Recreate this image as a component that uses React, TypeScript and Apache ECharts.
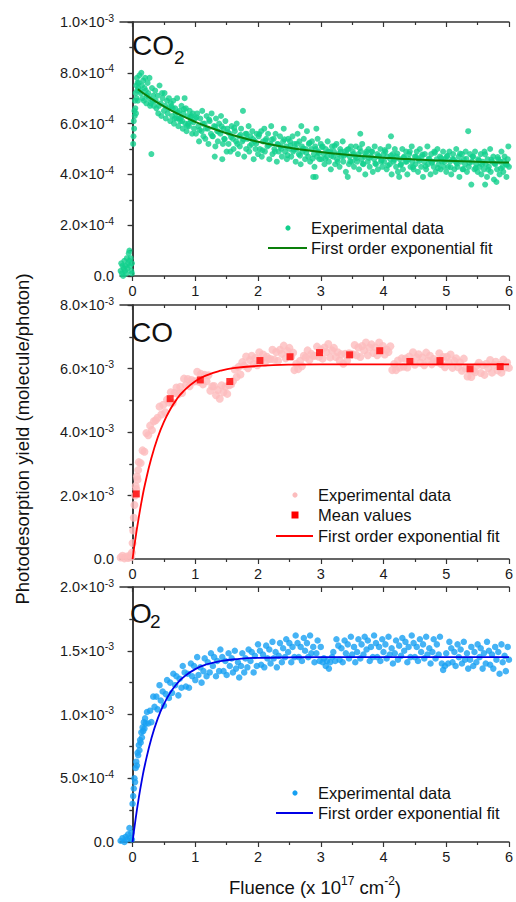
import { useEffect, useRef } from "react";
import * as echarts from "echarts";

const FONT = "'Liberation Sans', Arial, sans-serif";

// Fluence axis (x 10^17 cm^-2)
const FLUENCE_MAJOR = [0, 1, 2, 3, 4, 5, 6];
const FLUENCE_MINOR = [0.5, 1.5, 2.5, 3.5, 4.5, 5.5];

// Y-axis ranges: [max, interval]
const CO2_AXIS = [1e-3, 2e-4];
const CO_AXIS = [8e-3, 2e-3];
const O2_AXIS = [2e-3, 5e-4];

// ---------- CO2 : [fluence, yield x 1e-4] ----------
const co2Data: number[][] = [
  [-0.19,0.2],[-0.18,0.5],[-0.17,0.1],[-0.16,0.4],[-0.15,0.0],[-0.14,0.3],[-0.13,0.6],[-0.12,0.2],[-0.11,0.4],[-0.10,0.1],
  [-0.09,0.7],[-0.08,0.3],[-0.07,0.5],[-0.06,0.9],[-0.05,1.0],[-0.05,0.6],[-0.04,0.4],[-0.03,0.7],[-0.02,0.2],[-0.01,0.5],[-0.01,0.1],
  [0.01,5.2],[0.015,5.5],[0.02,6.1],[0.025,5.8],[0.03,6.5],[0.035,6.3],[0.04,6.9],[0.045,6.6],[0.05,7.2],[0.055,6.4],[0.06,7.5],
  [0.065,7.0],[0.07,7.8],[0.075,7.3],[0.08,7.6],[0.085,6.9],[0.09,7.4],
  [0.10,7.6],[0.11,7.9],[0.12,7.3],[0.13,7.2],[0.14,8.0],[0.15,7.5],[0.16,7.0],[0.17,7.7],[0.18,6.9],[0.19,7.4],[0.20,7.8],
  [0.21,7.3],[0.22,6.8],[0.23,7.1],[0.24,7.6],[0.25,7.2],[0.26,7.0],[0.27,7.8],[0.28,6.7],[0.29,6.8],[0.30,4.8],[0.31,7.4],
  [0.32,6.9],[0.33,7.1],[0.34,6.7],
  [0.36,7.3],[0.38,6.6],[0.40,7.1],[0.41,6.4],[0.43,7.5],[0.45,6.8],[0.46,6.3],[0.48,7.0],[0.50,6.5],[0.51,7.2],[0.53,6.2],
  [0.55,6.9],[0.56,6.4],[0.58,7.0],[0.60,6.1],[0.37,6.9],[0.42,6.7],[0.47,7.2],[0.52,6.7],[0.57,6.6],
  [0.61,6.8],[0.63,6.3],[0.65,6.9],[0.66,6.0],[0.68,6.6],[0.70,6.2],[0.71,7.0],[0.73,5.9],[0.75,6.5],[0.76,6.1],[0.78,6.7],
  [0.80,5.8],[0.81,6.4],[0.83,7.0],[0.84,6.0],[0.85,6.6],[0.86,5.7],[0.88,6.3],[0.90,5.9],[0.91,6.5],[0.93,6.1],[0.95,5.6],
  [0.96,6.4],[0.98,5.8],[1.00,6.2],[0.64,6.6],[0.69,6.4],[0.74,6.2],[0.79,6.1],[0.89,6.0],[0.94,6.3],
  [1.01,5.6],[1.03,6.4],[1.05,5.9],[1.06,5.3],[1.08,6.2],[1.10,5.7],[1.11,6.5],[1.13,5.5],[1.15,6.0],[1.16,5.4],[1.18,6.3],
  [1.20,5.8],[1.21,5.2],[1.23,6.1],[1.25,5.6],[1.26,6.4],[1.28,5.5],[1.30,5.9],[1.31,4.7],[1.33,6.2],[1.35,5.7],[1.36,5.3],
  [1.38,6.0],[1.40,5.6],[1.41,6.3],[1.43,4.6],[1.45,5.8],[1.46,5.4],[1.48,6.1],[1.50,4.9],[1.32,5.1],[1.44,5.2],
  [1.51,5.8],[1.53,5.2],[1.55,5.6],[1.56,4.9],[1.58,5.9],[1.60,5.4],[1.61,5.0],[1.63,5.7],[1.65,5.3],[1.66,6.0],[1.68,4.8],
  [1.70,5.5],[1.71,5.1],[1.73,5.8],[1.75,5.3],[1.76,6.5],[1.78,4.7],[1.80,5.6],[1.81,5.0],[1.83,5.4],[1.85,5.9],[1.86,4.9],
  [1.88,5.5],[1.90,5.2],[1.91,5.7],[1.93,4.6],[1.95,5.3],[1.96,5.0],[1.98,5.6],[2.00,4.8],
  [2.01,5.5],[2.03,5.0],[2.05,5.7],[2.06,4.7],[2.08,5.3],[2.10,5.8],[2.11,4.9],[2.13,5.4],[2.15,5.1],[2.16,5.6],[2.18,4.6],
  [2.20,5.2],[2.21,5.9],[2.23,4.8],[2.25,5.4],[2.26,5.0],[2.28,5.6],[2.30,4.5],[2.31,5.2],[2.33,4.9],[2.35,5.5],[2.36,5.1],
  [2.38,4.7],[2.40,5.3],[2.41,5.8],[2.43,4.9],[2.45,5.1],[2.46,4.6],[2.48,5.4],[2.50,5.0],
  [2.51,5.3],[2.53,4.7],[2.55,5.5],[2.56,4.9],[2.58,5.2],[2.60,4.5],[2.61,5.0],[2.63,5.6],[2.65,4.8],[2.66,5.3],[2.68,4.4],
  [2.69,5.9],[2.70,5.1],[2.71,4.9],[2.73,5.4],[2.75,4.6],[2.76,5.0],[2.78,5.7],[2.80,4.7],[2.81,5.2],[2.83,4.5],[2.85,5.0],
  [2.86,5.3],[2.88,3.9],[2.89,4.8],[2.90,4.3],[2.91,5.1],[2.92,3.9],[2.93,5.8],[2.94,4.7],[2.95,5.4],[2.96,4.9],[2.98,4.6],[3.00,5.2],
  [3.01,4.6],[3.03,5.1],[3.05,4.8],[3.06,4.4],[3.08,5.0],[3.10,4.7],[3.11,5.3],[3.13,4.5],[3.15,4.9],[3.16,4.2],[3.18,5.1],
  [3.20,4.7],[3.21,4.9],[3.23,4.4],[3.25,5.2],[3.26,4.6],[3.28,4.8],[3.30,4.3],[3.31,5.0],[3.33,4.7],[3.35,5.3],[3.36,4.5],
  [3.38,4.9],[3.40,4.1],[3.41,4.8],[3.43,3.9],[3.44,5.0],[3.45,4.4],[3.46,4.7],[3.48,5.1],[3.50,4.5],
  [3.51,4.9],[3.53,4.3],[3.55,4.7],[3.56,5.1],[3.58,4.5],[3.60,4.8],[3.61,4.2],[3.63,5.6],[3.64,4.9],[3.65,4.6],[3.66,5.2],
  [3.68,4.4],[3.70,4.7],[3.71,4.0],[3.73,4.9],[3.75,4.5],[3.76,5.0],[3.78,4.3],[3.80,4.7],[3.81,4.9],[3.83,4.1],[3.85,4.6],
  [3.86,5.1],[3.88,4.4],[3.90,4.8],[3.91,4.2],[3.93,4.7],[3.95,5.0],[3.96,4.5],[3.98,4.3],[4.00,4.8],
  [4.01,4.5],[4.03,4.9],[4.05,4.2],[4.06,4.7],[4.08,5.1],[4.10,4.4],[4.11,4.6],[4.12,5.5],[4.13,4.0],[4.15,4.8],[4.16,4.5],
  [4.18,5.0],[4.20,4.3],[4.21,4.7],[4.23,4.1],[4.25,3.9],[4.26,4.6],[4.28,4.4],[4.30,5.0],[4.31,4.2],[4.33,4.7],[4.35,4.5],
  [4.36,4.9],[4.38,4.0],[4.40,4.6],[4.41,4.8],[4.43,4.3],[4.45,5.1],[4.46,4.5],[4.48,4.2],[4.50,4.7],
  [4.51,4.4],[4.53,4.9],[4.55,4.1],[4.56,4.6],[4.58,5.0],[4.60,4.3],[4.61,4.7],[4.63,3.9],[4.65,4.5],[4.66,4.8],[4.68,4.2],
  [4.70,5.1],[4.71,4.4],[4.73,4.6],[4.75,4.0],[4.76,4.8],[4.78,4.5],[4.80,4.3],[4.81,4.9],[4.83,4.1],[4.85,4.6],[4.86,5.0],
  [4.88,4.4],[4.90,4.7],[4.91,4.2],[4.93,4.5],[4.95,4.9],[4.96,4.3],[4.98,4.6],[5.00,4.1],
  [5.01,4.7],[5.03,4.3],[5.05,4.9],[5.06,4.5],[5.08,4.0],[5.10,4.6],[5.11,4.8],[5.13,4.2],[5.15,4.5],[5.16,5.0],[5.18,4.3],
  [5.20,4.7],[5.21,3.9],[5.23,4.5],[5.25,4.8],[5.26,4.2],[5.28,4.6],[5.30,4.4],[5.31,4.9],[5.33,4.1],[5.35,5.7],[5.36,4.3],
  [5.38,4.8],[5.40,3.6],[5.41,4.5],[5.43,4.7],[5.45,4.2],[5.46,4.9],[5.48,4.4],[5.50,4.1],
  [5.51,4.6],[5.53,4.3],[5.55,4.8],[5.56,4.0],[5.58,4.5],[5.60,4.2],[5.61,4.9],[5.62,3.6],[5.63,4.4],[5.65,3.9],[5.66,4.6],
  [5.68,4.3],[5.70,5.0],[5.71,4.1],[5.73,4.5],[5.75,4.7],[5.76,3.8],[5.78,4.4],[5.80,3.7],[5.81,4.2],[5.83,4.6],[5.85,4.0],
  [5.86,4.5],[5.88,4.9],[5.90,4.3],[5.91,4.1],[5.93,4.7],[5.95,4.4],[5.96,3.9],[5.98,4.6],[6.00,4.3],[5.99,5.1],
  [0.62,6.69],[0.67,6.20],[0.72,6.44],[0.77,6.23],[0.82,6.57],[0.87,5.91],[0.92,6.26],[0.97,6.05],
  [1.02,6.25],[1.07,5.75],[1.12,6.00],[1.17,5.81],[1.22,6.16],[1.27,5.51],[1.32,5.87],[1.37,5.68],
  [1.42,5.89],[1.47,5.39],[1.52,5.66],[1.57,5.47],[1.62,5.83],[1.67,5.20],[1.72,5.56],[1.77,5.38],
  [1.82,5.60],[1.87,5.12],[1.92,5.39],[1.97,5.21],[2.02,5.58],[2.07,4.95],[2.12,5.33],[2.17,5.15],
  [2.22,5.37],[2.27,4.90],[2.32,5.18],[2.37,5.01],[2.42,5.38],[2.47,4.76],[2.52,5.14],[2.57,4.97],
  [2.62,5.20],[2.67,4.74],[2.72,5.02],[2.77,4.85],[2.82,5.24],[2.87,4.62],[2.92,5.00],[2.97,4.84],
  [3.02,5.07],[3.07,4.61],[3.12,4.90],[3.17,4.73],[3.22,5.12],[3.27,4.50],[3.32,4.89],[3.37,4.73],
  [3.42,4.97],[3.47,4.51],[3.52,4.80],[3.57,4.64],[3.62,5.03],[3.67,4.42],[3.72,4.81],[3.77,4.65],
  [3.82,4.89],[3.87,4.43],[3.92,4.72],[3.97,4.56],[4.02,4.96],[4.07,4.35],[4.12,4.74],[4.17,4.58],
  [4.22,4.82],[4.27,4.37],[4.32,4.66],[4.37,4.50],[4.42,4.90],[4.47,4.29],[4.52,4.69],[4.57,4.53],
  [4.62,4.78],[4.67,4.32],[4.72,4.61],[4.77,4.46],[4.82,4.85],[4.87,4.25],[4.92,4.64],[4.97,4.49],
  [5.02,4.74],[5.07,4.28],[5.12,4.58],[5.17,4.42],[5.22,4.82],[5.27,4.21],[5.32,4.61],[5.37,4.46],
  [5.42,4.70],[5.47,4.25],[5.52,4.55],[5.57,4.39],[5.62,4.79],[5.67,4.19],[5.72,4.58],[5.77,4.43],
  [5.82,4.68],[5.87,4.23],[5.92,4.52],[5.97,4.37]
];
const co2FitX = [0.085, 0.25, 0.5, 0.75, 1.0, 1.25, 1.5, 1.75, 2.0, 2.25, 2.5, 2.75, 3.0, 3.25, 3.5, 3.75, 4.0, 4.25, 4.5, 4.75, 5.0, 5.25, 5.5, 5.75, 6.0];
const co2FitY = [7.35, 7.06, 6.68, 6.35, 6.07, 5.83, 5.62, 5.44, 5.29, 5.16, 5.05, 4.96, 4.88, 4.81, 4.75, 4.70, 4.66, 4.62, 4.59, 4.56, 4.54, 4.52, 4.50, 4.48, 4.47];

// ---------- CO : [fluence, yield x 1e-3] ----------
const coData: number[][] = [
  [-0.19,0.05],[-0.16,0.10],[-0.13,0.02],[-0.10,0.08],[-0.07,0.03],[-0.04,0.12],[-0.02,0.06],[-0.01,0.20],
  [0.00,0.5],[0.01,0.9],[0.02,1.3],[0.03,1.7],[0.04,2.0],[0.05,2.3],[0.06,2.2],[0.07,2.6],[0.08,2.5],[0.09,2.8],
  [0.10,3.05],[0.13,3.02],[0.16,3.42],[0.19,3.38],[0.22,3.97],[0.25,3.90],[0.28,4.20],[0.31,4.06],[0.34,4.34],[0.37,4.37],
  [0.40,4.45],[0.43,4.80],[0.46,4.55],[0.49,4.86],[0.52,4.62],[0.55,5.02],[0.58,4.93],[0.61,5.25],[0.64,4.92],[0.67,5.23],
  [0.70,5.40],[0.73,5.19],[0.76,5.42],[0.79,5.23],[0.82,5.68],[0.85,5.48],[0.88,5.67],[0.91,5.44],[0.94,5.64],[0.97,5.59],
  [1.00,5.60],[1.03,5.90],[1.06,5.58],[1.09,5.83],[1.12,5.50],[1.15,5.80],[1.18,5.60],[1.21,5.79],[1.24,5.30],[1.27,5.44],
  [1.30,5.45],[1.33,5.16],[1.36,5.32],[1.39,5.05],[1.42,5.47],[1.45,5.25],[1.48,5.43],[1.51,5.20],[1.54,5.47],[1.57,5.50],
  [1.60,5.60],[1.63,5.97],[1.66,5.73],[1.69,6.05],[1.72,5.81],[1.75,6.20],[1.78,6.09],[1.81,6.38],[1.84,6.01],[1.87,6.27],
  [1.90,6.40],[1.93,6.14],[1.96,6.33],[1.99,6.10],[2.02,6.51],[2.05,6.27],[2.08,6.44],[2.11,6.18],[2.14,6.37],[2.17,6.30],
  [2.20,6.30],[2.23,6.59],[2.26,6.28],[2.29,6.52],[2.32,6.24],[2.35,6.59],[2.38,6.46],[2.41,6.72],[2.44,6.32],[2.47,6.55],
  [2.50,6.65],[2.53,6.38],[2.56,6.50],[2.58,5.95],[2.61,6.15],[2.64,5.98],[2.67,6.24],[2.70,6.07],[2.73,6.40],[2.76,6.35],
  [2.79,6.57],[2.82,6.27],[2.85,6.46],[2.88,6.40],[2.91,6.40],[2.94,6.69],[2.97,6.37],[3.00,6.60],[3.03,6.31],[3.06,6.66],
  [3.09,6.52],[3.12,6.77],[3.15,6.35],[3.18,6.57],[3.21,6.65],[3.24,6.36],[3.27,6.51],[3.30,6.25],[3.33,6.45],[3.36,6.15],
  [3.39,6.46],[3.42,6.25],[3.45,6.48],[3.48,6.45],[3.51,6.45],[3.54,6.74],[3.57,6.42],[3.60,6.66],[3.63,6.36],[3.66,6.71],
  [3.69,6.57],[3.72,6.82],[3.75,6.42],[3.78,6.66],[3.81,6.76],[3.84,6.49],[3.87,6.67],[3.90,6.42],[3.93,6.82],[3.96,6.57],
  [3.99,6.71],[4.02,6.44],[4.05,6.60],[4.08,6.52],[4.11,6.70],[4.14,5.95],[4.17,6.14],[4.20,5.95],[4.23,6.25],[4.26,6.03],
  [4.29,6.32],[4.32,6.06],[4.35,6.31],[4.38,6.03],[4.41,6.38],[4.44,6.24],[4.47,6.51],[4.50,6.12],[4.53,6.35],[4.56,6.45],
  [4.59,6.18],[4.62,6.35],[4.65,6.10],[4.68,6.50],[4.71,6.25],[4.74,6.40],[4.77,6.13],[4.80,6.30],[4.83,6.22],[4.86,6.20],
  [4.89,6.48],[4.92,6.14],[4.95,6.36],[4.98,6.04],[5.01,6.37],[5.04,6.20],[5.07,6.44],[5.10,6.02],[5.13,6.24],[5.16,6.32],
  [5.19,6.04],[5.22,6.19],[5.25,5.93],[5.28,6.31],[5.31,6.00],[5.34,5.75],[5.37,5.95],[5.40,5.73],[5.43,5.93],[5.46,5.88],
  [5.49,6.09],[5.52,6.18],[5.55,5.86],[5.58,6.10],[5.61,5.80],[5.64,6.15],[5.67,6.01],[5.70,6.27],[5.73,5.87],[5.76,6.11],
  [5.79,6.21],[5.82,5.94],[5.85,6.12],[5.88,5.87],[5.91,6.28],[5.94,6.03],[5.97,6.19],[6.00,6.02]
];
const coMeanX = [0.06, 0.60, 1.08, 1.55, 2.03, 2.51, 2.98, 3.46, 3.94, 4.42, 4.90, 5.38, 5.86];
const coMeanY = [2.05, 5.05, 5.64, 5.59, 6.25, 6.37, 6.50, 6.43, 6.56, 6.22, 6.25, 5.99, 6.06];
const coFitX = [0, 0.05, 0.1, 0.15, 0.2, 0.3, 0.4, 0.5, 0.6, 0.7, 0.8, 1.0, 1.2, 1.4, 1.6, 2.0, 2.5, 3.0, 4.0, 5.0, 6.0];
const coFitY = [0, 0.70, 1.32, 1.88, 2.37, 3.18, 3.82, 4.32, 4.71, 5.02, 5.26, 5.60, 5.80, 5.93, 6.01, 6.08, 6.12, 6.13, 6.13, 6.13, 6.13];

// ---------- O2 : [fluence, yield x 1e-3] ----------
const o2Data: number[][] = [
  [-0.19,0.01],[-0.16,0.03],[-0.13,0.00],[-0.11,0.04],[-0.09,0.02],[-0.07,0.06],[-0.05,0.11],[-0.04,0.03],[-0.02,0.07],[-0.01,0.02],
  [0.00,0.30],[0.01,0.36],[0.02,0.42],[0.03,0.50],[0.04,0.47],[0.05,0.58],[0.06,0.63],[0.07,0.60],[0.08,0.70],[0.09,0.68],
  [0.10,0.76],[0.11,0.72],[0.12,0.80],[0.13,0.78],[0.14,0.86],[0.15,0.82],[0.16,0.90],[0.17,0.87],[0.18,0.94],[0.19,0.89],
  [0.20,0.97],[0.21,0.93],
  [0.23,1.02],[0.25,0.93],[0.28,1.03],[0.30,0.94],[0.33,1.14],[0.35,1.06],[0.38,1.14],[0.40,1.04],[0.43,1.23],[0.45,1.11],
  [0.48,1.18],[0.50,1.07],[0.53,1.16],[0.55,1.27],[0.58,1.13],[0.60,1.25],[0.63,1.17],[0.65,1.32],[0.68,1.23],[0.70,1.30],
  [0.73,1.15],[0.75,1.28],[0.78,1.21],[0.80,1.38],[0.83,1.33],[0.85,1.22],[0.88,1.32],[0.90,1.21],[0.93,1.40],[0.95,1.30],
  [0.98,1.38],[1.00,1.27],[1.03,1.45],[1.05,1.31],[1.08,1.37],[1.10,1.25],[1.13,1.34],[1.15,1.44],[1.18,1.30],[1.20,1.41],
  [1.23,1.33],[1.25,1.48],[1.28,1.38],[1.30,1.45],[1.33,1.30],[1.35,1.42],[1.38,1.34],[1.40,1.51],[1.43,1.45],[1.45,1.34],
  [1.48,1.42],[1.50,1.31],[1.53,1.48],[1.55,1.38],[1.58,1.44],[1.60,1.33],[1.63,1.50],[1.65,1.36],[1.68,1.41],[1.70,1.29],
  [1.73,1.38],[1.75,1.48],[1.78,1.33],[1.80,1.44],[1.83,1.37],[1.85,1.51],[1.88,1.42],[1.90,1.49],[1.93,1.33],[1.95,1.46],
  [1.98,1.38],[2.00,1.55],[2.03,1.50],[2.05,1.39],[2.08,1.47],[2.10,1.37],[2.13,1.54],[2.15,1.44],[2.18,1.51],[2.20,1.40],
  [2.23,1.57],[2.25,1.44],[2.28,1.49],[2.30,1.37],[2.33,1.46],[2.35,1.56],[2.38,1.41],[2.40,1.52],[2.43,1.45],[2.45,1.59],
  [2.48,1.49],[2.50,1.56],[2.53,1.41],[2.55,1.53],[2.58,1.45],[2.60,1.62],[2.63,1.56],[2.65,1.45],[2.68,1.53],[2.70,1.42],
  [2.73,1.60],[2.75,1.50],[2.78,1.56],[2.80,1.45],[2.83,1.62],[2.85,1.48],[2.88,1.53],[2.90,1.41],[2.93,1.48],[2.95,1.58],
  [2.98,1.42],[3.00,1.53],[3.03,1.41],[3.05,1.44],[3.08,1.38],[3.10,1.42],[3.13,1.36],[3.15,1.41],[3.18,1.45],[3.20,1.49],
  [3.23,1.42],[3.25,1.59],[3.28,1.54],[3.30,1.43],[3.33,1.52],[3.35,1.41],[3.38,1.58],[3.40,1.48],[3.43,1.55],[3.45,1.44],
  [3.48,1.61],[3.50,1.47],[3.53,1.53],[3.55,1.41],[3.58,1.49],[3.60,1.59],[3.63,1.44],[3.65,1.55],[3.68,1.47],[3.70,1.61],
  [3.73,1.51],[3.75,1.58],[3.78,1.42],[3.80,1.53],[3.83,1.45],[3.85,1.62],[3.88,1.56],[3.90,1.45],[3.93,1.53],[3.95,1.42],
  [3.98,1.59],[4.00,1.49],[4.03,1.55],[4.05,1.44],[4.08,1.61],[4.10,1.47],[4.13,1.52],[4.15,1.40],[4.18,1.48],[4.20,1.58],
  [4.23,1.43],[4.25,1.54],[4.28,1.46],[4.30,1.60],[4.33,1.50],[4.35,1.57],[4.38,1.41],[4.40,1.53],[4.43,1.45],[4.45,1.62],
  [4.48,1.56],[4.50,1.45],[4.53,1.53],[4.55,1.42],[4.58,1.59],[4.60,1.49],[4.63,1.55],[4.65,1.44],[4.68,1.61],[4.70,1.47],
  [4.73,1.52],[4.75,1.40],[4.78,1.49],[4.80,1.59],[4.83,1.44],[4.85,1.55],[4.88,1.47],[4.90,1.61],[4.93,1.40],[4.95,1.35],
  [4.98,1.38],[5.00,1.48],[5.03,1.40],[5.05,1.57],[5.08,1.52],[5.10,1.41],[5.13,1.49],[5.15,1.38],[5.18,1.55],[5.20,1.45],
  [5.23,1.51],[5.25,1.40],[5.28,1.57],[5.30,1.43],[5.33,1.48],[5.35,1.36],[5.38,1.43],[5.40,1.53],[5.43,1.38],[5.45,1.49],
  [5.48,1.41],[5.50,1.55],[5.53,1.45],[5.55,1.52],[5.58,1.36],[5.60,1.48],[5.63,1.40],[5.65,1.57],[5.68,1.50],[5.70,1.39],
  [5.73,1.47],[5.75,1.36],[5.78,1.53],[5.80,1.43],[5.83,1.49],[5.85,1.32],[5.88,1.55],[5.90,1.41],[5.93,1.46],[5.95,1.34],
  [5.98,1.53],[6.00,1.43]
];
const o2FitX = [0, 0.05, 0.1, 0.15, 0.2, 0.3, 0.4, 0.5, 0.6, 0.7, 0.8, 1.0, 1.2, 1.4, 1.7, 2.0, 2.5, 3.0, 4.0, 5.0, 6.0];
const o2FitY = [0, 0.186, 0.348, 0.489, 0.612, 0.812, 0.966, 1.082, 1.170, 1.237, 1.288, 1.356, 1.396, 1.419, 1.436, 1.444, 1.448, 1.45, 1.45, 1.45, 1.45];

// ---------- styling ----------
const CO2_DOT = "#12cf8c";
const CO2_FIT = "#0a7f0a";
const CO_DOT = "#fcbcbd";
const CO_MEAN = "#ff0000";
const CO_FIT = "#ff0000";
const O2_DOT = "#16a0f2";
const O2_FIT = "#0000e6";
const AXIS_COLOR = "#333333";

const GRIDS = [
  { left: 120, top: 22, width: 389, height: 254 },
  { left: 120, top: 305, width: 389, height: 254 },
  { left: 120, top: 587, width: 389, height: 255 },
];

function sciLabel(v: number): string {
  if (Math.abs(v) < 1e-12) return "{m|0.0}";
  const e = Math.floor(Math.log10(v) + 1e-9);
  const m = v / Math.pow(10, e);
  return `{m|${m.toFixed(1)}×10}{e|${e}}`;
}

function buildOption() {
  const axisLine = { lineStyle: { color: AXIS_COLOR, width: 1.5 } };
  const tickStyle = { color: AXIS_COLOR, width: 1.2 };
  const xAxis: any[] = [];
  const yAxis: any[] = [];
  const ranges = [CO2_AXIS, CO_AXIS, O2_AXIS];
  GRIDS.forEach((_, i) => {
    const base = { gridIndex: i, type: "value", min: -0.2, max: 6, splitLine: { show: false } };
    xAxis.push({
      ...base, position: "bottom", axisLine,
      axisTick: { customValues: FLUENCE_MAJOR, length: 5, lineStyle: tickStyle },
      axisLabel: { customValues: FLUENCE_MAJOR, fontSize: 14.5, color: "#1a1a1a", margin: 7, fontFamily: FONT },
    });
    xAxis.push({
      ...base, position: "bottom", axisLine: { show: false },
      axisTick: { customValues: FLUENCE_MINOR, length: 3, lineStyle: tickStyle },
      axisLabel: { show: false },
    });
    xAxis.push({
      ...base, position: "top", axisLine,
      axisTick: { customValues: FLUENCE_MAJOR, length: 5, inside: true, lineStyle: tickStyle },
      axisLabel: { show: false },
    });
    xAxis.push({
      ...base, position: "top", axisLine: { show: false },
      axisTick: { customValues: FLUENCE_MINOR, length: 3, inside: true, lineStyle: tickStyle },
      axisLabel: { show: false },
    });
    const [max, interval] = ranges[i];
    const ybase = { gridIndex: i, type: "value", min: 0, max, interval, splitLine: { show: false } };
    yAxis.push({
      ...ybase, position: "left", axisLine: { show: true, ...axisLine },
      axisTick: { show: true, length: 5, lineStyle: tickStyle },
      minorTick: { show: true, splitNumber: 2, length: 3, lineStyle: tickStyle },
      axisLabel: {
        formatter: sciLabel, margin: 6, color: "#1a1a1a", fontFamily: FONT,
        rich: {
          m: { fontSize: 14.5, lineHeight: 20, fontFamily: FONT, color: "#1a1a1a" },
          e: { fontSize: 10.5, lineHeight: 10, verticalAlign: "top", fontFamily: FONT, color: "#1a1a1a" },
        },
      },
    });
    yAxis.push({
      ...ybase, position: "right", axisLine: { show: true, ...axisLine },
      axisTick: { show: true, length: 4, inside: true, lineStyle: tickStyle },
      minorTick: { show: true, splitNumber: 2, length: 3, lineStyle: tickStyle },
      axisLabel: { show: false },
    });
  });

  const pair = (xs: number[], ys: number[], k: number) => xs.map((x, i) => [x, ys[i] * k]);

  const series: any[] = [
    {
      type: "scatter", xAxisIndex: 0, yAxisIndex: 0, z: 2, symbolSize: 6,
      itemStyle: { color: CO2_DOT }, data: co2Data.map(([x, y]) => [x, y * 1e-4]),
    },
    {
      type: "line", xAxisIndex: 0, yAxisIndex: 0, z: 3, smooth: true, showSymbol: false,
      lineStyle: { color: CO2_FIT, width: 2 }, data: pair(co2FitX, co2FitY, 1e-4),
    },
    {
      type: "scatter", xAxisIndex: 4, yAxisIndex: 2, z: 2, symbolSize: 8,
      itemStyle: { color: CO_DOT }, data: coData.map(([x, y]) => [x, y * 1e-3]),
    },
    {
      type: "line", xAxisIndex: 4, yAxisIndex: 2, z: 3, smooth: true, showSymbol: false,
      lineStyle: { color: CO_FIT, width: 1.8 }, data: pair(coFitX, coFitY, 1e-3),
    },
    {
      type: "scatter", xAxisIndex: 4, yAxisIndex: 2, z: 4, symbol: "rect", symbolSize: 7,
      itemStyle: { color: CO_MEAN }, data: pair(coMeanX, coMeanY, 1e-3),
    },
    {
      type: "scatter", xAxisIndex: 8, yAxisIndex: 4, z: 2, symbolSize: 6.5,
      itemStyle: { color: O2_DOT }, data: o2Data.map(([x, y]) => [x, y * 1e-3]),
    },
    {
      type: "line", xAxisIndex: 8, yAxisIndex: 4, z: 3, smooth: true, showSymbol: false,
      lineStyle: { color: O2_FIT, width: 1.8 }, data: pair(o2FitX, o2FitY, 1e-3),
    },
  ];

  const txt = (x: number, y: number, text: string, fontSize: number, extra: any = {}) => ({
    type: "text", x, y, z: 100,
    style: { text, fontSize, fontFamily: FONT, fill: "#111", align: "left", verticalAlign: "middle", ...extra },
  });
  const dot = (cx: number, cy: number, fill: string) => ({ type: "circle", z: 100, shape: { cx, cy, r: 2.6 }, style: { fill } });
  const seg = (x1: number, x2: number, y: number, stroke: string) => ({
    type: "line", z: 100, shape: { x1, y1: y, x2, y2: y }, style: { stroke, lineWidth: 2 },
  });

  const graphic: any[] = [
    // panel titles
    txt(132, 45, "CO", 28), txt(174, 57, "2", 19),
    txt(131, 332, "CO", 28),
    txt(130, 613, "O", 28), txt(150, 621, "2", 19),
    // legend panel 1
    dot(288, 228, CO2_DOT), txt(311, 228, "Experimental data", 16.5),
    seg(268, 307, 248, CO2_FIT), txt(311, 248, "First order exponential fit", 16.5),
    // legend panel 2
    dot(295, 495, CO_DOT), txt(318, 495, "Experimental data", 16.5),
    { type: "rect", z: 100, shape: { x: 291.5, y: 511.5, width: 7, height: 7 }, style: { fill: CO_MEAN } },
    txt(318, 515, "Mean values", 16.5),
    seg(276, 313, 536, CO_FIT), txt(318, 536, "First order exponential fit", 16.5),
    // legend panel 3
    dot(295, 793, O2_DOT), txt(318, 793, "Experimental data", 16.5),
    seg(276, 313, 813, O2_FIT), txt(318, 813, "First order exponential fit", 16.5),
    // axis titles
    {
      type: "text", x: 22, y: 439, rotation: Math.PI / 2, z: 100,
      style: {
        text: "Photodesorption yield (molecule/photon)", fontSize: 18.5, fontFamily: FONT,
        fill: "#111", align: "center", verticalAlign: "middle",
      },
    },
    {
      type: "text", x: 315, y: 887, z: 100,
      style: {
        text: "{a|Fluence (x 10}{s|17}{a| cm}{s|-2}{a|)}",
        align: "center", verticalAlign: "middle", fill: "#111",
        rich: {
          a: { fontSize: 18.5, lineHeight: 24, fontFamily: FONT, fill: "#111", color: "#111" },
          s: { fontSize: 12, lineHeight: 12, verticalAlign: "top", fontFamily: FONT, fill: "#111", color: "#111" },
        },
      },
    },
  ];

  return {
    animation: false,
    backgroundColor: "#ffffff",
    textStyle: { fontFamily: FONT },
    grid: GRIDS,
    xAxis,
    yAxis,
    series,
    graphic,
  };
}

export default function App() {
  const ref = useRef<HTMLDivElement>(null);
  useEffect(() => {
    document.body.style.margin = "0";
    if (!ref.current) return;
    const chart = echarts.init(ref.current, undefined, { renderer: "svg" });
    chart.setOption(buildOption() as any);
    return () => chart.dispose();
  }, []);
  return <div ref={ref} style={{ width: 516, height: 902, position: "absolute", left: 0, top: 0 }} />;
}
